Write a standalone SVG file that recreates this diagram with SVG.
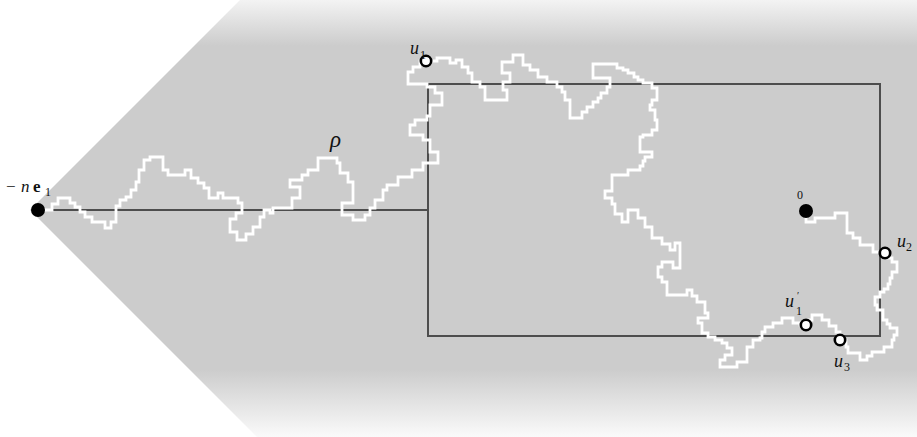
<svg xmlns="http://www.w3.org/2000/svg" width="917" height="437" viewBox="0 0 917 437">
<defs>
<linearGradient id="fade" x1="0" y1="0" x2="0" y2="437" gradientUnits="userSpaceOnUse">
<stop offset="0" stop-color="#f3f3f3"/>
<stop offset="0.105" stop-color="#cccccc"/>
<stop offset="0.845" stop-color="#cccccc"/>
<stop offset="1" stop-color="#fafafa"/>
</linearGradient>
<style>
.frame{fill:none;stroke:#4d4d4d;stroke-width:2}
.walk{fill:none;stroke:#ffffff;stroke-width:2.8;stroke-linejoin:miter}
.dot{fill:#000}
.open{fill:#fff;stroke:#000;stroke-width:2.6}
text{font-family:"Liberation Serif","DejaVu Serif",serif;fill:#111}
.lbl{font-style:italic;font-size:18px}
.sub{font-style:normal;font-size:12px}
</style>
</defs>
<rect width="917" height="437" fill="#fff"/>
<polygon points="30,210 240,0 917,0 917,437 257,437" fill="url(#fade)"/>
<g id="frame">
<line class="frame" x1="38" y1="210" x2="428" y2="210"/>
<rect class="frame" x="428" y="84" width="452" height="252"/>
</g>
<g id="connectors">
<path class="walk" d="M38,210 H52 V204 H58 V198 H70 V203 H75 V207 H80 V212 H85 V217 H92 V222 H105 V228 H111 V222 H116 V206 H120 V200 H126 V197 H131 V190 H136 V182 H139 V170 H144 V160 H150 V157 H163 V170 H168 V175 H185 V170 H191 V178 H198 V183 H204 V188 H209 V198 H218 V193 H223 V198 H238 V203 H242 V213 H236 V219 H230 V232 H237 V240 H246 V234 H253 V227 H260 V217 H264 V210 H270 V213 H273 V208 H292 V198 H300 V187 H290 V180 H302 V175 H308 V170 H318 V158 H337 V163 H340 V173 H348 V182 H353 V203 H342 V215 H353 V220 H365 V215 H370 V208 H375 V200 H383 V190 H387 V185 H398 V177 H412 V170 H423 V163 H438 V152 H430 V140 H423 V135 H410 V125 H415 V120 H427 V116 H430 V105 H442 V93 H435 V87 H427 V84 H408 V72 H413 V67 H420 V61 H437 V58 H450 V63 H456 V60 H462 V67 H468 V73 H472 V82 H480 V87 H485 V100 H507 V90 H503 V82 H510 V73 H502 V62 H513 V55 H523 V65 H530 V70 H538 V77 H547 V82 H557 V87 H562 V92 H565 V100 H570 V118 H582 V112 H587 V107 H593 V102 H598 V98 H601 V93 H607 V87 H610 V78 H593 V64 H617 V68 H623 V70 H628 V73 H634 V77 H638 V80 H643 V83 H652 V88 H657 V100 H652 V105 H650 V110 H655 V120 H657 V130 H652 V135 H643 V137 H640 V152 H652 V157 H645 V161 H643 V166 H640 V170 H628 V175 H612 V191 H605 V198 H612 V204 H615 V214 H622 V222 H628 V210 H638 V218 H645 V227 H652 V238 H662 V244 H670 V250 H675 V243 H680 V268 H673 V262 H662 V267 H658 V277 H662 V282 H667 V295 H687 V290 H692 V296 H697 V302 H705 V313 H708 V318 H698 V323 H702 V333 H708 V337 H715 V340 H722 V343 H727 V348 H732 V355 H725 V360 H720 V367 H737 V362 H747 V347 H753 V340 H760 V338 H762 V332 H765 V327 H773 V323 H782 V318 H793 V323 H800 V325 H806 V320 H812 V315 H822 V320 H829 V326 H836 V332 H840 V340 H846 V347 H848 V353 H860 V360 H867 V356 H872 V352 H884 V347 H892 V340 H894 V335 H897 V328 H890 V324 H887 V320 H883 V310 H877 V305 H875 V297 H880 V292 H884 V289 H888 V284 H890 V278 H892 V272 H897 V262 H892 V258 H885 V252 H873 V245 H860 V238 H853 V233 H847 V213 H835 V218 H815 V222 H806 V211"/>
</g>
<g id="rho-label"><text class="lbl" x="330" y="147" style="font-size:23px">ρ</text></g>
<g id="start">
<circle class="dot" cx="38" cy="210" r="7"/>
<text x="6" y="192" style="font-size:17px">−<tspan x="21" style="font-style:italic">n</tspan><tspan x="33" style="font-weight:bold">e</tspan><tspan x="45" y="196" style="font-size:12px">1</tspan></text>
</g>
<g id="origin">
<circle class="dot" cx="806" cy="211" r="7"/>
<text x="800" y="199" text-anchor="middle" style="font-size:12px">0</text>
</g>
<g id="u1">
<circle class="open" cx="426" cy="61" r="5.2"/>
<text class="lbl" x="410" y="54">u<tspan x="420" y="59" class="sub">1</tspan></text>
</g>
<g id="u2">
<circle class="open" cx="885" cy="253" r="5.2"/>
<text class="lbl" x="897" y="247">u<tspan x="906" y="251" class="sub">2</tspan></text>
</g>
<g id="u1p">
<circle class="open" cx="806" cy="325" r="5.2"/>
<text class="lbl" x="785" y="307">u<tspan x="797" y="299" style="font-style:normal;font-size:10px">′</tspan><tspan x="796" y="315" class="sub">1</tspan></text>
</g>
<g id="u3">
<circle class="open" cx="840" cy="340" r="5.2"/>
<text class="lbl" x="834" y="367">u<tspan x="844" y="371" class="sub">3</tspan></text>
</g>
</svg>
